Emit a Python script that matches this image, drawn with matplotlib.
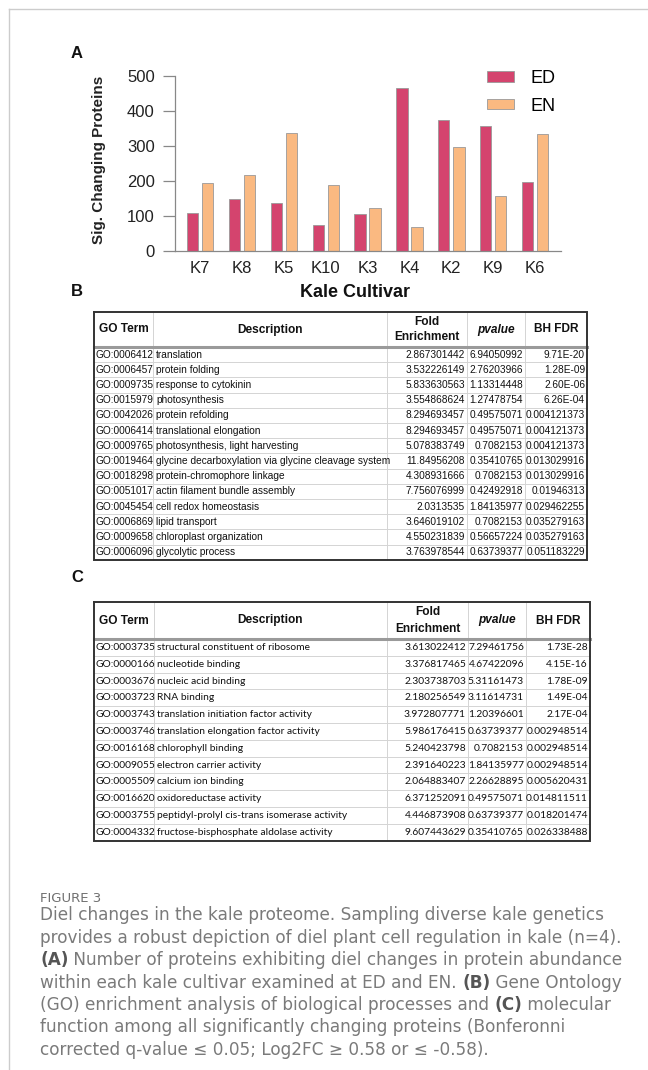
import matplotlib
matplotlib.use("Agg")
import matplotlib.pyplot as plt
import numpy as np

plt.rcParams['font.family'] = ['Liberation Sans', 'DejaVu Sans']

#%% Data
cultivars = ["K7", "K8", "K5", "K10", "K3", "K4", "K2", "K9", "K6"]
ed_counts = [110, 148, 138, 73, 105, 465, 374, 356, 197]
en_counts = [193, 216, 338, 190, 122, 68, 296, 156, 333]

go_b = ["GO:0006412", "GO:0006457", "GO:0009735", "GO:0015979", "GO:0042026",
        "GO:0006414", "GO:0009765", "GO:0019464", "GO:0018298", "GO:0051017",
        "GO:0045454", "GO:0006869", "GO:0009658", "GO:0006096"]
desc_b = ["translation", "protein folding", "response to cytokinin", "photosynthesis",
          "protein refolding", "translational elongation",
          "photosynthesis, light harvesting",
          "glycine decarboxylation via glycine cleavage system",
          "protein-chromophore linkage", "actin filament bundle assembly",
          "cell redox homeostasis", "lipid transport", "chloroplast organization",
          "glycolytic process"]
fold_b = ["2.867301442", "3.532226149", "5.833630563", "3.554868624", "8.294693457",
          "8.294693457", "5.078383749", "11.84956208", "4.308931666", "7.756076999",
          "2.0313535", "3.646019102", "4.550231839", "3.763978544"]
pval_b = ["6.94050992", "2.76203966", "1.13314448", "1.27478754", "0.49575071",
          "0.49575071", "0.7082153", "0.35410765", "0.7082153", "0.42492918",
          "1.84135977", "0.7082153", "0.56657224", "0.63739377"]
fdr_b = ["9.71E-20", "1.28E-09", "2.60E-06", "6.26E-04", "0.004121373",
         "0.004121373", "0.004121373", "0.013029916", "0.013029916", "0.01946313",
         "0.029462255", "0.035279163", "0.035279163", "0.051183229"]

go_c = ["GO:0003735", "GO:0000166", "GO:0003676", "GO:0003723", "GO:0003743",
        "GO:0003746", "GO:0016168", "GO:0009055", "GO:0005509", "GO:0016620",
        "GO:0003755", "GO:0004332"]
desc_c = ["structural constituent of ribosome", "nucleotide binding",
          "nucleic acid binding", "RNA binding",
          "translation initiation factor activity",
          "translation elongation factor activity", "chlorophyll binding",
          "electron carrier activity", "calcium ion binding",
          "oxidoreductase activity",
          "peptidyl-prolyl cis-trans isomerase activity",
          "fructose-bisphosphate aldolase activity"]
fold_c = ["3.613022412", "3.376817465", "2.303738703", "2.180256549", "3.972807771",
          "5.986176415", "5.240423798", "2.391640223", "2.064883407", "6.371252091",
          "4.446873908", "9.607443629"]
pval_c = ["7.29461756", "4.67422096", "5.31161473", "3.11614731", "1.20396601",
          "0.63739377", "0.7082153", "1.84135977", "2.26628895", "0.49575071",
          "0.63739377", "0.35410765"]
fdr_c = ["1.73E-28", "4.15E-16", "1.78E-09", "1.49E-04", "2.17E-04",
         "0.002948514", "0.002948514", "0.002948514", "0.005620431", "0.014811511",
         "0.018201474", "0.026338488"]

caption_lines = [
    [("Diel changes in the kale proteome. Sampling diverse kale genetics", False)],
    [("provides a robust depiction of diel plant cell regulation in kale (n=4).", False)],
    [("(A)", True), (" Number of proteins exhibiting diel changes in protein abundance", False)],
    [("within each kale cultivar examined at ED and EN. ", False), ("(B)", True), (" Gene Ontology", False)],
    [("(GO) enrichment analysis of biological processes and ", False), ("(C)", True), (" molecular", False)],
    [("function among all significantly changing proteins (Bonferonni", False)],
    [("corrected q-value \u2264 0.05; Log2FC \u2265 0.58 or \u2264 -0.58).", False)],
]

W, H = 648, 1070
fig = plt.figure(figsize=(W / 100, H / 100), dpi=100)

# background axes in pixel coords (y down)
bg = fig.add_axes([0, 0, 1, 1])
bg.set_xlim(0, W)
bg.set_ylim(H, 0)
bg.axis('off')

def px_axes(x0, x1, y0, y1):
    return fig.add_axes([x0 / W, 1 - y1 / H, (x1 - x0) / W, (y1 - y0) / H])

# frame
bg.plot([9, W], [9, 9], color='#cccccc', lw=1)
bg.plot([9, 9], [9, H], color='#cccccc', lw=1)

#%% Panel A
ax = px_axes(175, 561, 76, 251)
x = np.arange(len(cultivars))
ax.bar(x - 0.18, ed_counts, width=0.27, color='#d4446e', edgecolor='#999999', lw=0.6, label='ED')
ax.bar(x + 0.18, en_counts, width=0.27, color='#fab981', edgecolor='#999999', lw=0.6, label='EN')
ax.set_xlim(-0.6, 8.62)
ax.set_ylim(0, 500)
ax.set_yticks([0, 100, 200, 300, 400, 500])
ax.set_xticks(x)
ax.set_xticklabels(cultivars)
for s in ['top', 'right']:
    ax.spines[s].set_visible(False)
for s in ['left', 'bottom']:
    ax.spines[s].set_color('#888888')
    ax.spines[s].set_linewidth(0.9)
ax.tick_params(axis='x', length=0, pad=7, labelsize=12, labelcolor='#222222')
ax.tick_params(axis='y', length=8.5, width=0.9, color='#888888', pad=6,
               labelsize=12, labelcolor='#222222')
ax.set_ylabel('Sig. Changing Proteins', fontsize=11, fontweight='bold', color='#222222')
ax.yaxis.set_label_coords(-0.179, 0.52)
ax.set_xlabel('Kale Cultivar', fontsize=13, fontweight='bold', color='#111111')
ax.xaxis.set_label_coords(0.466, -0.19)
ax.legend(loc='upper left', bbox_to_anchor=(0.808, 1.035), frameon=False, fontsize=13,
          handlelength=1.5, handleheight=0.5, handletextpad=0.9, labelspacing=0.6,
          borderpad=0, borderaxespad=0)

for lab, yy in [("A", 53), ("B", 292), ("C", 578)]:
    bg.text(77, yy, lab, fontsize=12, fontweight='bold', ha='center', va='center', color='#111111')

#%% Tables
def draw_table(top, head_bot, row_h, cols, rows, data_font, data_size, head_ls):
    left, right = cols[0], cols[-1]
    n = len(rows[0])
    bottom = head_bot + row_h * n
    for i in range(1, n):
        yy = head_bot + row_h * i
        bg.plot([left, right], [yy, yy], color='#d4d4d4', lw=0.7)
    for cx in cols[1:-1]:
        bg.plot([cx, cx], [top, bottom], color='#d4d4d4', lw=0.7)
    bg.plot([left, right], [head_bot, head_bot], color='#9a9a9a', lw=2.2)
    bg.plot([left, right, right, left, left], [top, top, bottom, bottom, top],
            color='#333333', lw=1.4, solid_joinstyle='miter')
    hy = (top + head_bot) / 2
    hk = dict(fontsize=8.6, fontweight='bold', ha='center', va='center', color='#111111')
    bg.text((cols[0] + cols[1]) / 2, hy, "GO Term", **hk)
    bg.text((cols[1] + cols[2]) / 2, hy, "Description", **hk)
    bg.text((cols[2] + cols[3]) / 2, hy, "Fold\nEnrichment", linespacing=head_ls, **hk)
    bg.text((cols[3] + cols[4]) / 2, hy, "pvalue", style='italic', **hk)
    bg.text((cols[4] + cols[5]) / 2, hy, "BH FDR", **hk)
    dk = dict(fontsize=data_size, va='center', color='#111111', family=data_font)
    go, desc, fold, pv, fdr = rows
    for i in range(n):
        yy = head_bot + row_h * (i + 0.5)
        bg.text(cols[0] + 1.5, yy, go[i], ha='left', **dk)
        bg.text(cols[1] + 3, yy, desc[i], ha='left', **dk)
        bg.text(cols[3] - 2, yy, fold[i], ha='right', **dk)
        bg.text(cols[4] - 2, yy, pv[i], ha='right', **dk)
        bg.text(cols[5] - 2, yy, fdr[i], ha='right', **dk)

draw_table(312, 347, 15.2, [94, 153, 387, 467, 525, 587],
           [go_b, desc_b, fold_b, pval_b, fdr_b], ['Liberation Sans', 'DejaVu Sans'], 7.3, 1.3)
draw_table(602, 639, 16.8, [94, 154, 387, 468, 526, 590],
           [go_c, desc_c, fold_c, pval_c, fdr_c], ['Lato', 'DejaVu Sans'], 7.4, 1.5)

#%% Caption
cap_font = ['DejaVu Sans']
renderer = fig.canvas.get_renderer()
probe = bg.text(0, 0, caption_lines[0][0][0], fontsize=10, family=cap_font)
cap_size = 10 * 565 / probe.get_window_extent(renderer=renderer).width
probe.remove()

bg.text(40, 899, "FIGURE 3", fontsize=9.5, color='#707070', va='center', family=cap_font)
for k, line in enumerate(caption_lines):
    yy = 915.5 + 22.4 * k
    xx = 40
    for txt, bold in line:
        t = bg.text(xx, yy, txt, fontsize=cap_size, va='center', family=cap_font,
                    fontweight='bold' if bold else 'normal',
                    color='#555555' if bold else '#7a7a7a')
        bb = t.get_window_extent(renderer=renderer)
        xx = bb.x1

fig.savefig("out.png", dpi=100)
